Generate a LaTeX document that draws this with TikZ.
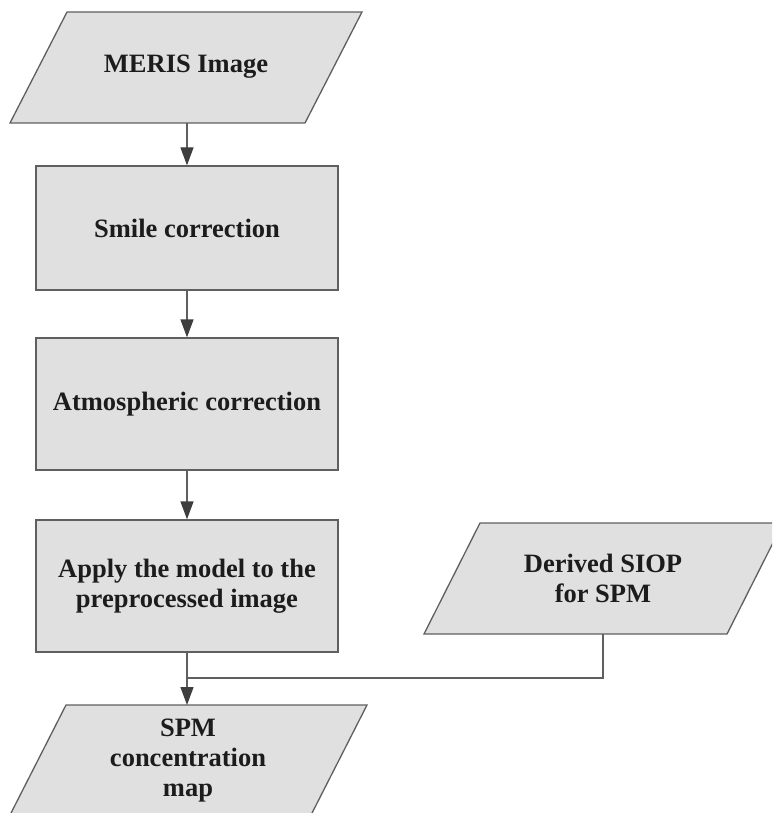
\documentclass[tikz,border=0pt]{standalone}
\usepackage{fontspec}
\setmainfont{Liberation Serif}
\usetikzlibrary{arrows.meta}
\definecolor{boxfill}{RGB}{224,224,224}
\definecolor{edgecol}{RGB}{95,95,95}
\definecolor{inkcol}{RGB}{28,28,28}
\colorlet{tipcol}{inkcol!85}
\begin{document}
\begin{tikzpicture}[x=1pt,y=-1pt,
  fillshape/.style={fill=boxfill,draw=edgecol,line width=1.3pt},
  lbl/.style={text=inkcol,font=\fontsize{26.5}{30}\selectfont\bfseries,align=center,inner sep=0pt},
  procbox/.style={fillshape,lbl,rectangle,minimum width=302pt},
  conn/.style={draw=edgecol,line width=1.3pt},
  arr/.style={conn,-{Triangle[length=18pt,width=13pt,color=tipcol,fill=tipcol]}}]
\useasboundingbox (0,0) rectangle (772,813);
\begin{scope}
\clip (0,0) rectangle (772,813);
% MERIS image
\path[fillshape] (67,12) -- (362,12) -- (305,123) -- (10,123) -- cycle;
\node[lbl] (meris) at (186,67) {MERIS Image};
\coordinate (merisB) at (187,123);
% process boxes
\node[procbox,minimum height=124pt] (smile) at (187,228) {Smile correction};
\node[procbox,minimum height=132pt] (atmo) at (187,404) {Atmospheric correction};
\node[procbox,minimum height=132pt] (apply) at (187,586) {Apply the model to the\\preprocessed image};
% derived SIOP
\path[fillshape] (480,523) -- (783,523) -- (727,634) -- (424,634) -- cycle;
\node[lbl] (siop) at (603,578) {Derived SIOP\\for SPM};
\coordinate (siopB) at (603,634);
\coordinate (join) at (187,678);
% SPM map
\path[fillshape] (66,705) -- (367,705) -- (310,817) -- (9,817) -- cycle;
\node[lbl] (spm) at (188,761) {SPM\\concentration\\map};
\coordinate (spmT) at (187,705);
% connectors
\draw[arr] (merisB) -- (smile.north);
\draw[arr] (smile.south) -- (atmo.north);
\draw[arr] (atmo.south) -- (apply.north);
\draw[arr] (apply.south) -- (spmT);
\draw[conn] (siopB) |- (join);
\end{scope}
\end{tikzpicture}
\end{document}
